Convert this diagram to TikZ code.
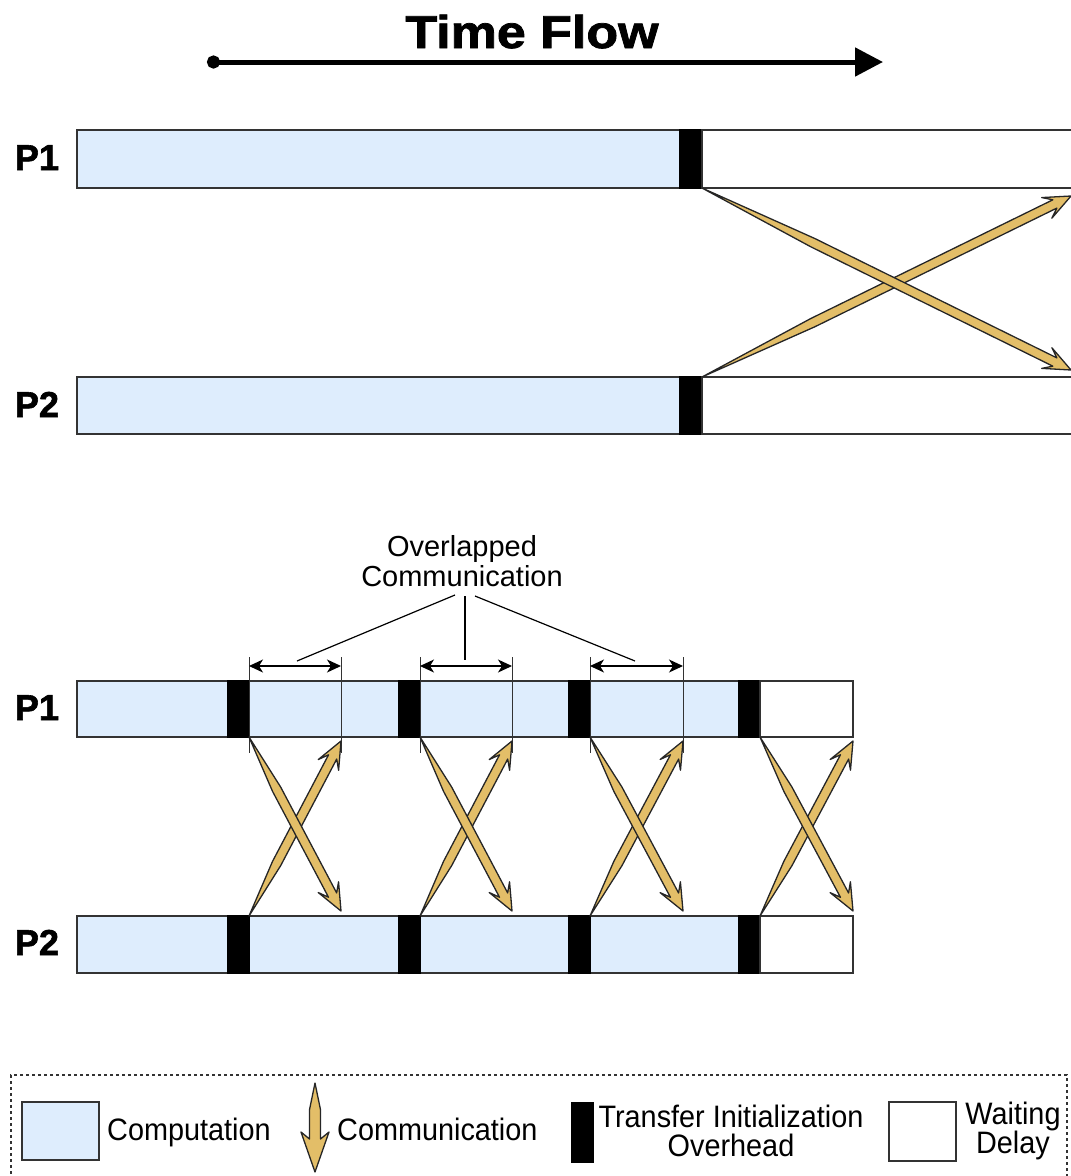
\documentclass[tikz,border=0pt]{standalone}
\usepackage{fontspec}
\setmainfont{Liberation Sans}
\newfontfamily\heavyfont[FakeBold=1.6]{Liberation Sans Bold}
\usetikzlibrary{calc,arrows.meta}

\definecolor{compfill}{HTML}{DEEDFD}
\definecolor{commfill}{HTML}{E3BE68}
\definecolor{edge}{HTML}{333333}

\tikzset{
  seg/.style={draw=edge, line width=1.5pt, inner sep=0pt, outer sep=0pt, anchor=north west},
  comp/.style={seg, fill=compfill},
  init/.style={seg, draw=black, fill=black},
  wait/.style={seg, fill=white},
  proc/.style={font=\fontsize{36}{36}\selectfont\heavyfont, anchor=base, inner sep=0pt},
  note/.style={font=\fontsize{29}{30}\selectfont, align=center, inner sep=0pt},
  legtext/.style={font=\fontsize{31}{29}\selectfont, align=center, inner sep=0pt, xscale=0.93, transform shape},
  tick/.style={draw=edge, line width=1pt},
  span/.style={line width=1.2pt,
    {Stealth[length=14pt,width=13pt,inset=4pt]}-{Stealth[length=14pt,width=13pt,inset=4pt]}},
  callout/.style={line width=1.2pt},
  comm/.style={draw=black!85, line width=1.3pt, fill=commfill, line join=round},
  timeline/.style={line width=5pt, {Circle[length=13pt]}-{Triangle[length=28pt,width=28pt]}},
  legendframe/.style={draw=edge, line width=1.5pt, dash pattern=on 3pt off 3pt,
    inner sep=0pt, outer sep=0pt, anchor=north west},
}

% shaft half width, head notch distance, head length, head half width
\newcommand\shaftw{4.6pt}
\newcommand\notchd{18pt}
\newcommand\headl{27pt}
\newcommand\headw{11.5pt}

% tapered communication arrow from tail #2 to tip #3, full width reached at fraction #1
\newcommand\commarrow[3][0.3]{%
  \path[comm] (#2)
    -- ($(#2)!#1!(#3)!\shaftw!90:(#3)$)
    -- ($(#3)!\notchd!(#2)!\shaftw!-90:(#2)$)
    -- ($(#3)!\headl!(#2)!\headw!-90:(#2)$)
    -- (#3)
    -- ($(#3)!\headl!(#2)!\headw!90:(#2)$)
    -- ($(#3)!\notchd!(#2)!\shaftw!90:(#2)$)
    -- ($(#2)!#1!(#3)!\shaftw!-90:(#3)$)
    -- cycle;}

\begin{document}
\begin{tikzpicture}[x=1pt, y=-1pt]
\useasboundingbox (0,0) rectangle (1071,1176);

% ---------- time axis ----------
\node[font=\fontsize{46}{46}\selectfont\heavyfont, anchor=base, inner sep=0pt,
      xscale=1.13, transform shape] (title) at (532,48) {Time Flow};
\coordinate (tStart) at (207,62);
\coordinate (tEnd) at (883,62);
\draw[timeline] (tStart) -- (tEnd);

% ---------- blocking exchange ----------
\node[proc] (lP1a) at (37,170) {P1};
\node[proc] (lP2a) at (37,417) {P2};

\node[comp, minimum width=603pt, minimum height=58pt] (tP1c) at (77,130) {};
\node[init, minimum width=22pt,  minimum height=58pt] (tP1i) at (680,130) {};
\node[wait, minimum width=390pt, minimum height=58pt] (tP1w) at (702,130) {};

\node[comp, minimum width=603pt, minimum height=57pt] (tP2c) at (77,377) {};
\node[init, minimum width=22pt,  minimum height=57pt] (tP2i) at (680,377) {};
\node[wait, minimum width=390pt, minimum height=57pt] (tP2w) at (702,377) {};

\coordinate (tUpTip) at (1071,196);
\coordinate (tDnTip) at (1071,370);
\commarrow{tP2i.north east}{tUpTip}
\commarrow{tP1i.south east}{tDnTip}

% ---------- overlapped exchange ----------
\node[proc] (lP1b) at (37,720) {P1};
\node[proc] (lP2b) at (37,955) {P2};

\foreach \k/\x/\w in {1/77/151, 2/249/150, 3/420/149, 4/590/149}{
  \node[comp, minimum width=\w pt, minimum height=56pt] (bP1c\k) at (\x,681) {};
  \node[comp, minimum width=\w pt, minimum height=57pt] (bP2c\k) at (\x,916) {};
}
\foreach \k/\x in {1/228, 2/399, 3/569, 4/739}{
  \node[init, minimum width=21pt, minimum height=56pt] (bP1i\k) at (\x,681) {};
  \node[init, minimum width=21pt, minimum height=57pt] (bP2i\k) at (\x,916) {};
}
\node[wait, minimum width=93pt, minimum height=56pt] (bP1w) at (760,681) {};
\node[wait, minimum width=93pt, minimum height=57pt] (bP2w) at (760,916) {};

% overlap spans
\foreach \k/\lx/\rx in {1/249/341, 2/420/512, 3/590/683}{
  \coordinate (sL\k) at (\lx,666);
  \coordinate (sR\k) at (\rx,666);
  \draw[tick] (\lx,657) -- (\lx,753);
  \draw[tick] (\rx,657) -- (\rx,753);
  \draw[span] (sL\k) -- (sR\k);
}

% crossing transfers
\foreach \k/\rx in {1/341, 2/512, 3/683, 4/853}{
  \coordinate (upTip\k) at (\rx,741);
  \coordinate (dnTip\k) at (\rx,911);
  \commarrow{bP2i\k.north east}{upTip\k}
  \commarrow{bP1i\k.south east}{dnTip\k}
}

% callout
\node[note] (ovl) at (462,561) {Overlapped\\Communication};
\coordinate (cA) at (455,595);
\coordinate (cB) at (465,596);
\coordinate (cC) at (475,596);
\coordinate (cAe) at (297,661);
\coordinate (cBe) at (465,660);
\coordinate (cCe) at (635,661);
\draw[callout] (cA) -- (cAe);
\draw[callout] (cB) -- (cBe);
\draw[callout] (cC) -- (cCe);

% ---------- legend ----------
\node[legendframe, minimum width=1056pt, minimum height=120pt] (legend) at (11,1075) {};

\node[comp, line width=2.5pt, minimum width=77pt, minimum height=58pt] (lgComp) at (22,1102) {};
\node[legtext, anchor=base west] (lgCompT) at (107,1140) {Computation};

\coordinate (lgA) at (315,1083);
\coordinate (lgB) at (315,1172);
{\renewcommand\shaftw{5.5pt}\renewcommand\notchd{33pt}\renewcommand\headl{40pt}\renewcommand\headw{14pt}
 \commarrow[0.3]{lgA}{lgB}}
\node[legtext, anchor=base west] (lgCommT) at (337,1140) {Communication};

\node[init, minimum width=21pt, minimum height=59pt] (lgInit) at (572,1103) {};
\node[legtext] (lgInitT) at (731,1131) {Transfer Initialization\\Overhead};

\node[wait, line width=2.5pt, minimum width=67pt, minimum height=59pt] (lgWait) at (889,1102) {};
\node[legtext] (lgWaitT) at (1013,1131) {Waiting\\Delay};
\end{tikzpicture}
\end{document}
